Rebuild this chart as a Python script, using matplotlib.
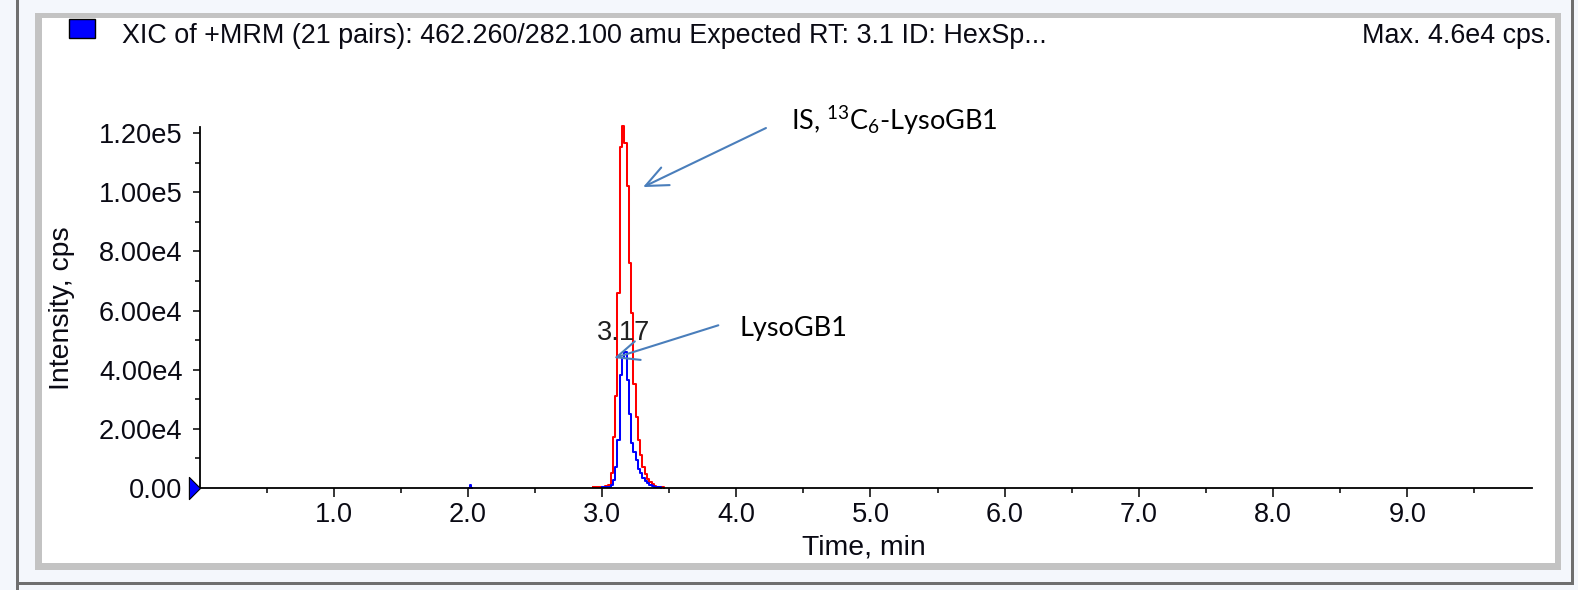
import matplotlib
matplotlib.use("Agg")
import matplotlib.pyplot as plt
from matplotlib.patches import Rectangle
from matplotlib.path import Path
from matplotlib.markers import MarkerStyle
import numpy as np

# ---------------- data ----------------
red_time = [2.93, 2.96, 2.99, 3.02, 3.045, 3.065, 3.08, 3.097, 3.114, 3.131, 3.148,
            3.165, 3.182, 3.199, 3.216, 3.233, 3.25, 3.267, 3.284, 3.301, 3.318,
            3.335, 3.352, 3.369, 3.386, 3.403, 3.42, 3.46]
red_cps = [300, 200, 300, 500, 900, 4900, 17000, 31000, 66000, 115500, 122500,
           116600, 102000, 76000, 59000, 35000, 24000, 16000, 11000, 7100, 4500,
           3000, 2000, 1200, 700, 400, 300, 0]

blue_time = [3.00, 3.04, 3.065, 3.08, 3.097, 3.114, 3.131, 3.148, 3.165, 3.182,
             3.199, 3.216, 3.233, 3.25, 3.267, 3.284, 3.301, 3.318, 3.335, 3.352,
             3.369, 3.386, 3.403, 3.44]
blue_cps = [100, 300, 800, 2500, 7000, 16000, 38000, 44000, 46000, 36500,
            25000, 15000, 12000, 9400, 6500, 4900, 3200, 2200, 1500, 900,
            500, 300, 100, 0]

blip_time = [2.01, 2.02, 2.03]
blip_cps = [0, 900, 0]

x_major = [1, 2, 3, 4, 5, 6, 7, 8, 9]
x_labels = ["1.0", "2.0", "3.0", "4.0", "5.0", "6.0", "7.0", "8.0", "9.0"]
y_major = [0, 20000, 40000, 60000, 80000, 100000, 120000]
y_labels = ["0.00", "2.00e4", "4.00e4", "6.00e4", "8.00e4", "1.00e5", "1.20e5"]

title_text = "XIC of +MRM (21 pairs): 462.260/282.100 amu Expected RT: 3.1 ID: HexSp..."
max_text = "Max. 4.6e4 cps."
peak_label = "3.17"
peak_label_pos = (3.16, 46000)
is_label = r"IS, $\mathregular{^{13}}$C$\mathregular{_{6}}$-LysoGB1"
lyso_label = "LysoGB1"

# ---------------- figure ----------------
W, H = 1578, 590
fig = plt.figure(figsize=(W / 100, H / 100), dpi=100, facecolor="#f4f7fc")

def px_rect(x0, y0, x1, y1, **kw):
    """rectangle in pixel coords measured from top-left"""
    r = Rectangle((x0 / W, 1 - y1 / H), (x1 - x0) / W, (y1 - y0) / H,
                  transform=fig.transFigure, zorder=-5, **kw)
    fig.patches.append(r)
    return r

# outer window lines
px_rect(16, 0, 19, 590, facecolor="#6f6f6f", edgecolor="none")
px_rect(1571, 0, 1574, 585, facecolor="#6f6f6f", edgecolor="none")
px_rect(16, 582, 1574, 585, facecolor="#6f6f6f", edgecolor="none")
# gray panel border + white interior
px_rect(35, 12.5, 1561, 569.5, facecolor="#c3c3c3", edgecolor="none")
px_rect(41.5, 17.5, 1554.5, 563, facecolor="white", edgecolor="none")
# legend square
px_rect(69, 18.5, 95, 38, facecolor="#0000ff", edgecolor="black", linewidth=1.0)

FONT = ["Liberation Sans", "DejaVu Sans"]
TXT = "#0a0a14"
fig.text(121.7 / W, 1 - 43.3 / H, title_text, fontsize=19.4, family=FONT,
         color=TXT, ha="left", va="baseline")
fig.text(1551.5 / W, 1 - 43.3 / H, max_text, fontsize=19.4, family=FONT,
         color=TXT, ha="right", va="baseline")

# axes
ax_l, ax_r, ax_b, ax_t = 199.5, 1531.7, 487.7, 126.7
ax = fig.add_axes([ax_l / W, 1 - ax_b / H, (ax_r - ax_l) / W, (ax_b - ax_t) / H])
ax.set_zorder(3)
ax.patch.set_alpha(0)
ax.set_xlim(0, 9.927)
ax.set_ylim(0, 122250)

ax.step(blue_time, blue_cps, where="post", color="#0000ff", lw=1.45, clip_on=False, zorder=3)
ax.step(blip_time, blip_cps, where="mid", color="#0000ff", lw=1.45, clip_on=False, zorder=3)
ax.step(red_time, red_cps, where="post", color="#ff0000", lw=1.45, clip_on=False, zorder=2)

for s in ["top", "right"]:
    ax.spines[s].set_visible(False)
for s in ["left", "bottom"]:
    ax.spines[s].set_linewidth(1.3)
    ax.spines[s].set_color("black")
    ax.spines[s].set_zorder(4)

TICKFS = 19.6
ax.set_xticks(x_major)
ax.set_xticklabels(x_labels)
ax.set_xticks(np.arange(0.5, 9.9, 1.0), minor=True)
ax.set_yticks(y_major)
ax.set_yticklabels(y_labels)
ax.set_yticks(np.arange(10000, 120000, 20000), minor=True)
ax.tick_params(axis="x", which="major", length=6.5, width=1.1, pad=4.0,
               labelsize=TICKFS, colors="black")
ax.tick_params(axis="x", which="minor", length=3.8, width=1.1)
ax.tick_params(axis="y", which="major", length=5.2, width=1.1, pad=7,
               labelsize=TICKFS, colors="black")
ax.tick_params(axis="y", which="minor", length=3.8, width=1.1)
for lab in ax.get_xticklabels() + ax.get_yticklabels():
    lab.set_family(FONT)
    lab.set_color(TXT)

# origin triangle marker
tri = MarkerStyle(Path([(-1, -1), (0, 0), (-1, 1), (-1, -1)],
                       [Path.MOVETO, Path.LINETO, Path.LINETO, Path.CLOSEPOLY]))
ax.plot([0], [0], marker=tri, markersize=16, markerfacecolor="#0000ff",
        markeredgecolor="black", markeredgewidth=0.8, clip_on=False, zorder=5)

# axis labels
fig.text(62 / W, 1 - 308 / H, "Intensity, cps", rotation=90, fontsize=20.4,
         family=FONT, color=TXT, ha="center", va="center")
fig.text(864 / W, 1 - 555 / H, "Time, min", fontsize=20.4, family=FONT,
         color=TXT, ha="center", va="baseline")

# peak label
ax.annotate(peak_label, xy=peak_label_pos, xytext=(0, 4), textcoords="offset points",
            ha="center", va="bottom", fontsize=TICKFS, family=FONT, color="#202020",
            zorder=6)

# arrows and annotation text
ARROW = "#4a7ebb"
aprops = dict(arrowstyle="->,head_length=0.8,head_width=0.35", color=ARROW, lw=1.5,
              mutation_scale=20, shrinkA=0, shrinkB=0)
ax.annotate("", xy=(3.305, 101800), xytext=(4.221, 121800), arrowprops=aprops,
            annotation_clip=False, zorder=7)
ax.annotate("", xy=(3.089, 43900), xytext=(3.866, 55000), arrowprops=aprops,
            annotation_clip=False, zorder=7)

CAL = ["Lato", "DejaVu Sans"]
ax.text(4.411, 121100, is_label, fontsize=19.5, family=CAL, color="black",
        ha="left", va="baseline", clip_on=False)
ax.text(4.022, 51500, lyso_label, fontsize=19.5, family=CAL, color="black",
        ha="left", va="baseline", clip_on=False)

fig.savefig("out.png", dpi=100, facecolor=fig.get_facecolor())
